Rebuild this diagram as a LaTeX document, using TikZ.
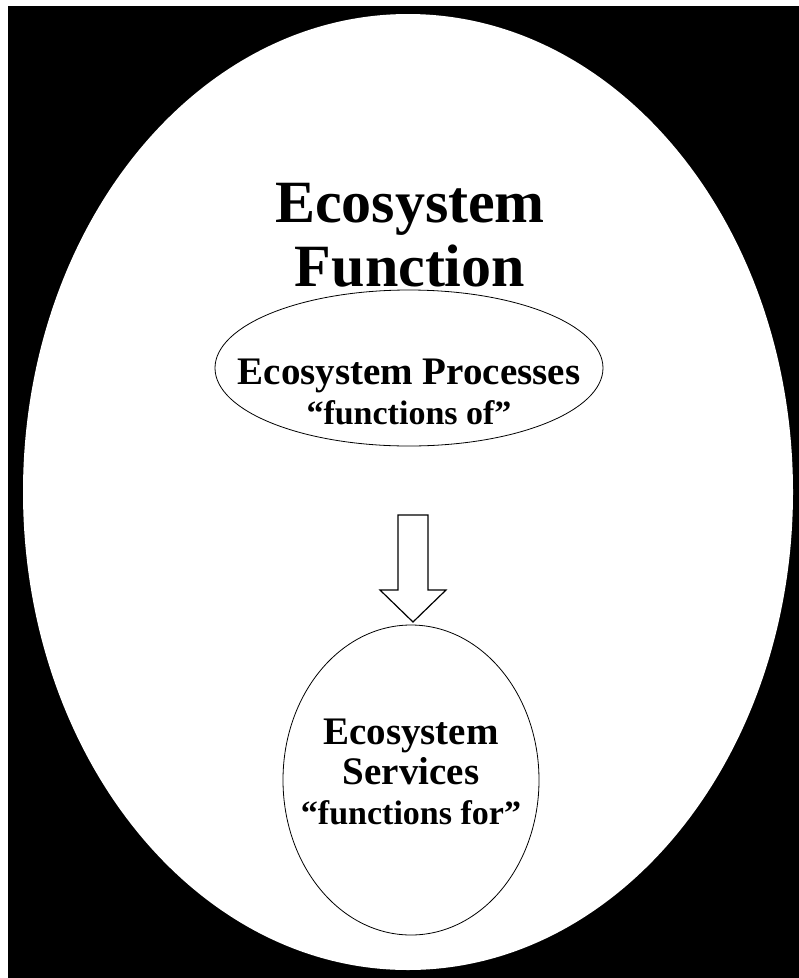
\documentclass[tikz,border=0pt]{standalone}
\usepackage{fontspec}
\setmainfont{Liberation Serif}
\usetikzlibrary{positioning,shapes.geometric}

\begin{document}
\begin{tikzpicture}[x=1pt,y=-1pt,
    bubble/.style={draw,ellipse,fill=white,line width=0.8pt,inner sep=0pt},
    bigtext/.style={font=\bfseries\fontsize{60}{64}\selectfont,align=center},
    midtext/.style={font=\bfseries\fontsize{39}{40}\selectfont,align=center},
    blockarrow/.style={draw,fill=white,line width=1.2pt,line join=miter}]
    \useasboundingbox (0,0) rectangle (799,978);
    \fill[white] (0,0) rectangle (799,978);
    \fill[black] (8,6) rectangle (799,978);

    \node[bubble,draw=none,minimum width=770pt,minimum height=956pt] (eco) at (408,492) {};
    \node[bigtext] (func) at (410,235) {Ecosystem\\Function};

    \node[bubble,minimum width=388pt,minimum height=156pt] (proc) at (409,368) {};
    \node[midtext] (proclbl) at (409,392) {Ecosystem Processes\\{\fontsize{34}{36}\selectfont “functions of”}};

    \node[bubble,minimum width=256pt,minimum height=310pt] (serv) at (411,780) {};
    \node[midtext] (servlbl) at (411,772) {Ecosystem\\Services\\{\fontsize{34}{36}\selectfont “functions for”}};

    \coordinate (arrtop) at (413,515);
    \draw[blockarrow] (arrtop) ++(-15,0) -- ++(30,0) -- ++(0,75) -- ++(18,0)
        -- (413,622) -- ++(-33,-32) -- ++(18,0) -- cycle;
\end{tikzpicture}
\end{document}
